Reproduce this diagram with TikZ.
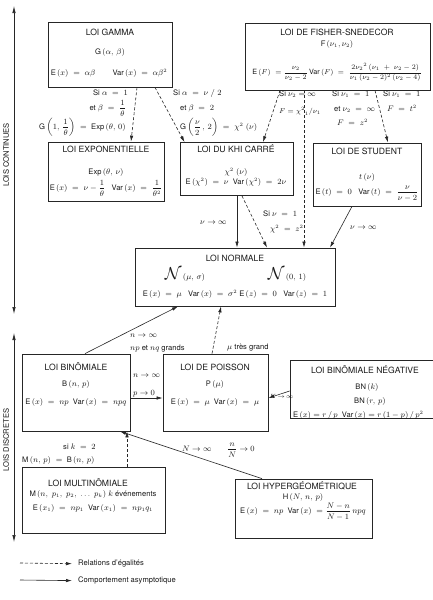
\documentclass[tikz,border=0pt]{standalone}
\usepackage{amsmath}
\usepackage{fontspec}
\setmainfont{TeX Gyre Heros}
\usetikzlibrary{arrows.meta,calc}
\begin{document}
\begin{tikzpicture}[x=1pt,y=-1pt,
  font=\fontsize{7.6}{9}\selectfont,
  box/.style={draw=black!85, line width=0.8pt, inner sep=0pt},
  t/.style={inner sep=0pt, anchor=mid, text=black!90},
  tw/.style={t, anchor=mid west},
  te/.style={t, anchor=mid east},
  ttl/.style={t, font=\fontsize{8.6}{10}\selectfont},
  arr/.style={-{Latex[length=6pt,width=3.4pt]}, line width=0.6pt, draw=black!85},
  dsh/.style={arr, dash pattern=on 3pt off 2pt},
  ax/.style={{Latex[length=7pt,width=3.4pt]}-{Latex[length=7pt,width=3.4pt]}, line width=0.6pt, draw=black!85}]
\useasboundingbox[fill=white] (0,0) rectangle (432,600);

% axes
\coordinate (ax1) at (14,6);
\coordinate (ax2) at (14,314);
\coordinate (ax3) at (14,333);
\coordinate (ax4) at (14,542);
\draw[ax] (ax1) -- (ax2);
\draw[ax] (ax3) -- (ax4);
\node[t, anchor=center, rotate=90] (lc) at (6,155) {LOIS CONTINUES};
\node[t, anchor=center, rotate=90] (ld) at (6,440) {LOIS DISCRETES};

% boxes
\node[box, minimum width=124pt, minimum height=65pt] (gamma) at (110,54.5) {};
\node[box, minimum width=185pt, minimum height=67pt] (fisher) at (337.5,56.5) {};
\node[box, minimum width=116pt, minimum height=59pt] (expo) at (106,171.5) {};
\node[box, minimum width=113pt, minimum height=53pt] (khi) at (236.5,169) {};
\node[box, minimum width=108pt, minimum height=63pt] (student) at (367,174.5) {};
\node[box, minimum width=200pt, minimum height=58pt] (normale) at (235,277) {};
\node[box, minimum width=108pt, minimum height=77pt] (binom) at (76,392.5) {};
\node[box, minimum width=105pt, minimum height=77pt] (poisson) at (215.5,392.5) {};
\node[box, minimum width=152pt, minimum height=58pt] (bn) at (366,389) {};
\node[box, minimum width=143pt, minimum height=66pt] (multi) at (93.5,500) {};
\node[box, minimum width=137pt, minimum height=59pt] (hyper) at (303.5,508.5) {};

% gamma
\node[ttl] (g1) at (110,33) {LOI GAMMA};
\node[t] (g2) at (110,52) {G\,$(\alpha,\,\beta)$};
\node[t] (g3) at (109,73) {E\,$(x)\;=\;\alpha\beta\qquad$ Var\,$(x)\;=\;\alpha\beta^2$};

% fisher
\node[ttl] (f1) at (337,33) {LOI DE FISHER-SNEDECOR};
\node[t] (f2) at (337,44) {F\,$(\nu_1,\nu_2)$};
\node[t, font=\fontsize{7.2}{8}\selectfont] (f3) at (337,72) {E\,$(F)\;=\dfrac{\nu_2}{\nu_2-2}$\,Var\,$(F)\;=\;\dfrac{2{\nu_2}^2\,(\nu_1\;+\;\nu_2-2)}{\nu_1\,(\nu_2-2)^2\,(\nu_2-4)}$};

% exponentielle
\node[ttl] (e1) at (106,150) {LOI EXPONENTIELLE};
\node[t] (e2) at (106,172) {Exp\,$(\theta,\,\nu)$};
\node[t] (e3) at (106,188) {E\,$(x)\;=\;\nu-\dfrac{1}{\theta}$\;\; Var\,$(x)\;=\;\dfrac{1}{\theta^2}$};

% khi
\node[ttl] (k1) at (236,150) {LOI DU KHI CARRÉ};
\node[t] (k2) at (236,172) {$\chi^2\;(\nu)$};
\node[t] (k3) at (236,182) {E\,$(\chi^2)\;=\;\nu$\; Var\,$(\chi^2)\;=\;2\nu$};

% student
\node[ttl] (s1) at (367,152) {LOI DE STUDENT};
\node[t] (s2) at (367,177) {$t\,(\nu)$};
\node[t] (s3) at (367,192) {E\,$(t)\;=\;0$\;\; Var\,$(t)\;=\;\dfrac{\nu}{\nu-2}$};

% normale
\node[ttl] (n1) at (235,259) {LOI NORMALE};
\node[t] (n2) at (185,277) {{\LARGE$\mathcal{N}$}\,$(\mu,\,\sigma)$};
\node[t] (n3) at (287,277) {{\LARGE$\mathcal{N}$}\,$(0,\,1)$};
\node[t] (n4) at (235,294) {E\,$(x)\;=\;\mu$\;\; Var\,$(x)\;=\;\sigma^2$ E\,$(z)\;=\;0$\;\; Var\,$(z)\;=\;1$};

% binomiale
\node[ttl] (b1) at (76,368) {LOI BINÔMIALE};
\node[t] (b2) at (76,384) {B\,$(n,\,p)$};
\node[t] (b3) at (76,402) {E\,$(x)\;=\;np$\; Var\,$(x)\;=\;npq$};

% poisson
\node[ttl] (p1) at (215,368) {LOI DE POISSON};
\node[t] (p2) at (215,384) {P\,$(\mu)$};
\node[t] (p3) at (215,402) {E\,$(x)\;=\;\mu$\; Var\,$(x)\;=\;\mu$};

% binomiale negative
\node[ttl] (bn1) at (365,371) {LOI BINÔMIALE NÉGATIVE};
\node[t] (bn2) at (367,387) {BN\,$(k)$};
\node[t] (bn3) at (370,401) {BN\,$(r,\,p)$};
\node[tw] (bn4) at (293,415) {E\,$(x) = r\,/\,p$\; Var\,$(x) = r\,(1-p)\,/\,p^2$};

% multinomiale
\node[ttl] (m1) at (88,484) {LOI MULTINÔMIALE};
\node[t] (m2) at (93,494) {M\,$(n,\;p_1,\;p_2,\;\ldots\;p_k)\;k$ événements};
\node[t] (m3) at (93,508) {E\,$(x_1)\;=\;np_1$\; Var\,$(x_1)\;=\;np_1q_1$};

% hypergeometrique
\node[ttl] (h1) at (302,487) {LOI HYPERGÉOMÉTRIQUE};
\node[t] (h2) at (303,497) {H\,$(N,\,n,\,p)$};
\node[t] (h3) at (303,511) {E\,$(x)\;=\;np$\; Var\,$(x)\;=\dfrac{N-n}{N-1}\,npq$};

% connectors
\draw[dsh] ([xshift=27pt]gamma.south) -- ([xshift=25pt]expo.north);
\draw[dsh] ([xshift=45pt]gamma.south) -- ([xshift=-52pt]khi.north);
\draw[dsh] ([xshift=-57.5pt]fisher.south) -- ([xshift=26.5pt]khi.north);
\draw[dsh] ([xshift=-33.5pt]fisher.south) -- ([xshift=69pt]normale.north);
\draw[dsh] ([xshift=37.5pt]fisher.south) -- ([xshift=21pt]student.north);
\draw[arr] ([xshift=0.5pt]khi.south) -- ([xshift=2pt]normale.north);
\draw[dsh] ([xshift=5.5pt]khi.south) -- ([xshift=32pt]normale.north);
\draw[arr] ([xshift=-15pt]student.south) -- ([xshift=95pt]normale.north);
\draw[arr] ([xshift=9pt]binom.north) -- ([xshift=-57pt]normale.south);
\draw[dsh] ([xshift=-3.5pt]poisson.north) -- ([xshift=-14pt]normale.south);
\draw[arr] ([yshift=-5.5pt]binom.east) -- ([yshift=-5.5pt]poisson.west);
\draw[arr] ([yshift=-2pt]bn.west) -- ([yshift=-5.5pt]poisson.east);
\draw[dsh] ([xshift=33.5pt]multi.north) -- ([xshift=51pt]binom.south);
\draw[arr] ([xshift=-41.5pt]hyper.north) -- ([xshift=44pt]binom.south);

% connector labels
\node[te] (l1) at (128,93) {Si $\alpha\;=\;1$};
\node[te] (l2) at (126,108) {et $\beta\;=\;\dfrac{1}{\theta}$};
\node[te] (l3) at (126,127) {G\,$\left(1,\,\dfrac{1}{\theta}\right)\;=\;$ Exp\,$(\theta,\,0)$};
\node[tw] (l4) at (173,93) {Si $\alpha\;=\;\nu\;/\;2$};
\node[tw] (l5) at (180,108) {et $\beta\;=\;2$};
\node[tw] (l6) at (180,127) {G\,$\left(\dfrac{\nu}{2}\,,\,2\right)\;=\;\chi^2\;(\nu)$};
\node[tw] (l7) at (279,94) {Si $\nu_2 = \infty$};
\node[tw, font=\fontsize{7}{8}\selectfont] (l8) at (279,111) {$F = {\chi^2}_1/\nu_1$};
\node[tw] (l9) at (332,94) {Si $\nu_1\;=\;1$};
\node[tw] (l10) at (334,109) {et $\nu_2\;=\;\infty$};
\node[tw] (l11) at (337,123) {$F\;=\;z^2$};
\node[tw] (l12) at (383,94) {Si $\nu_1\;=\;1$};
\node[tw] (l13) at (387,109) {$F\;=\;t^2$};
\node[tw] (l14) at (200,222) {$\nu\to\infty$};
\node[tw] (l15) at (263,214) {Si $\nu\;=\;1$};
\node[tw] (l16) at (270,229) {$\chi^2\;=\;z^2$};
\node[tw] (l17) at (350,227) {$\nu\to\infty$};
\node[tw] (l18) at (130,335) {$n\to\infty$};
\node[tw] (l19) at (130,348) {$np$ et $nq$ grands};
\node[tw] (l20) at (227,347) {$\mu$ très grand};
\node[tw] (l21) at (133,375) {$n\to\infty$};
\node[tw] (l22) at (133,393) {$p\to0$};
\node[tw, font=\fontsize{6.5}{8}\selectfont] (l23) at (269.5,396) {$K\,{\to}\,\infty$};
\node[tw] (l24) at (63,447) {si $k\;=\;2$};
\node[tw] (l25) at (22,460) {M\,$(n,\,p)\;=\;$ B\,$(n,\,p)$};
\node[tw] (l26) at (182,449) {$N\to\infty$};
\node[tw] (l27) at (227,449) {$\dfrac{n}{N}\to0$};

% legend
\coordinate (lga) at (20,563);
\coordinate (lgb) at (20,580);
\node[tw] (lg1) at (78,563) {Relations d'égalités};
\node[tw] (lg2) at (78,580) {Comportement asymptotique};
\draw[dsh] (lga) -- ([xshift=-6pt]lg1.west);
\draw[arr] (lgb) -- ([xshift=-6pt]lg2.west);
\end{tikzpicture}
\end{document}
